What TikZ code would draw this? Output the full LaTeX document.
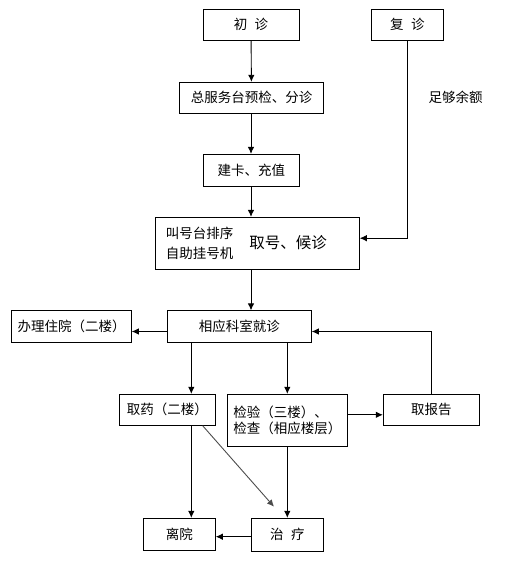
\documentclass[tikz,border=0pt]{standalone}
\usepackage{fontspec}
\setmainfont{Noto Sans CJK SC}
\usetikzlibrary{arrows.meta}
\tikzstyle{stepbox} = [draw=black, fill=white, line width=0.9pt,
    rectangle, inner sep=0pt, align=center, font=\fontsize{13.5}{16.5}\selectfont]
\tikzstyle{arr} = [line width=0.9pt, -{Latex[length=7pt,width=6.5pt]}]
\tikzstyle{plain} = [inner sep=0pt, font=\fontsize{13.5}{16.5}\selectfont]

\begin{document}
\begin{tikzpicture}[x=1pt,y=-1pt]
    \useasboundingbox (0,0) rectangle (509,561);
    % top part
    \node[stepbox, minimum width=96pt, minimum height=31pt] (chuzhen) at (251,24.8) {初\hspace{0.55em}诊};
    \node[stepbox, minimum width=72pt, minimum height=31pt] (fuzhen) at (407.3,24.8) {复\hspace{0.55em}诊};
    \node[stepbox, minimum width=144.4pt, minimum height=31pt] (zongtai) at (251.5,97.8) {总服务台预检、分诊};
    \node[stepbox, minimum width=96pt, minimum height=31.7pt] (jianka) at (251.3,170.2) {建卡、充值};
    \node[stepbox, minimum width=204.3pt, minimum height=51.7pt] (quhao) at (257.2,243.2) {};
    \node[plain] (paihao) at (199.5,233) {叫号台排序};
    \node[plain] (zizhu) at (199.5,253) {自助挂号机};
    \node[plain, font=\fontsize{15.5}{18}\selectfont] (houzhen) at (288,243) {取号、候诊};
    \node[plain] (yue) at (455.5,97) {足够余额};
    % lower part
    \node[stepbox, minimum width=144pt, minimum height=31.3pt] (xiangying) at (239.3,326.5) {相应科室就诊};
    \node[stepbox, minimum width=119.6pt, minimum height=31.6pt] (zhuyuan) at (71.5,326.5) {办理住院（二楼）};
    \node[stepbox, minimum width=96pt, minimum height=31pt] (quyao) at (167.3,409.8) {取药（二楼）};
    \node[stepbox, minimum width=120pt, minimum height=52pt, align=left] (jianyan) at (287.3,420.3) {检验（三楼）、\\检查（相应楼层）};
    \node[stepbox, minimum width=96pt, minimum height=31pt] (baogao) at (431.3,409.8) {取报告};
    \node[stepbox, minimum width=72pt, minimum height=31.7pt] (liyuan) at (179.3,534.2) {离院};
    \node[stepbox, minimum width=72pt, minimum height=32.7pt] (zhiliao) at (287.3,534.7) {治\hspace{0.55em}疗};
    \coordinate (zhiliaoin) at (274,506.7);

    % connectors
    \draw[arr] (chuzhen) -- (zongtai);
    \draw[arr] (zongtai.south -| chuzhen) -- (jianka.north -| chuzhen);
    \draw[arr] (jianka.south -| chuzhen) -- (quhao.north -| chuzhen);
    \draw[arr] (fuzhen.south) |- ([yshift=5pt]quhao.east);
    \draw[arr] (quhao.south -| chuzhen) -- (xiangying.north -| chuzhen);
    \draw[arr] ([yshift=-5pt]xiangying.west) -- ([yshift=-5pt]xiangying.west -| zhuyuan.east);
    \draw[arr] ([xshift=24pt]quyao.north |- xiangying.south) -- ([xshift=24pt]quyao.north);
    \draw[arr] (xiangying.south -| jianyan) -- (jianyan.north);
    \draw[arr] (baogao.north) |- ([yshift=-5pt]xiangying.east);
    \draw[arr] ([yshift=5.5pt]jianyan.east) -- ([yshift=5.5pt]jianyan.east -| baogao.west);
    \draw[arr] ([xshift=24pt]quyao.south) -- ([xshift=24pt]quyao.south |- liyuan.north);
    \draw[arr, draw=black!70] ([xshift=35.4pt]quyao.south) -- (zhiliaoin);
    \draw[arr] (jianyan.south) -- (zhiliao.north);
    \draw[arr] ([yshift=-2pt]zhiliao.west) -- ([yshift=-2pt]zhiliao.west -| liyuan.east);
\end{tikzpicture}
\end{document}
